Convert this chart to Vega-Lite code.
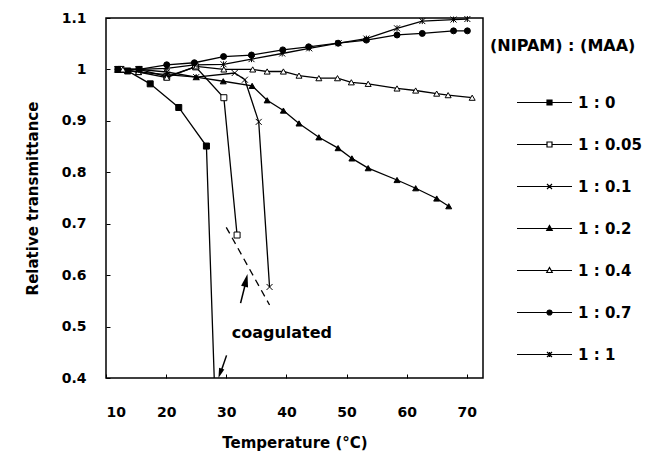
{
  "$schema": "https://vega.github.io/schema/vega-lite/v6.json",
  "width": 377,
  "height": 360,
  "autosize": {"type": "none"},
  "padding": {"left": 106, "top": 18, "right": 166, "bottom": 75},
  "background": "white",
  "config": {
    "view": {"stroke": "black", "strokeWidth": 1.5},
    "font": "DejaVu Sans",
    "axis": {
      "grid": false,
      "domain": false,
      "ticks": true,
      "tickColor": "black",
      "tickSize": -4,
      "labelFont": "DejaVu Sans",
      "labelFontSize": 14,
      "labelFontWeight": "bold",
      "labelColor": "black",
      "titleFont": "DejaVu Sans",
      "titleFontSize": 15,
      "titleFontWeight": "bold",
      "titleColor": "black"
    }
  },
  "datasets": {
    "series": [
      {"s": "1 : 0", "t": 12, "r": 1.0, "measured": true},
      {"s": "1 : 0", "t": 13.6, "r": 0.997, "measured": true},
      {"s": "1 : 0", "t": 17.35, "r": 0.972, "measured": true},
      {"s": "1 : 0", "t": 22.1, "r": 0.926, "measured": true},
      {"s": "1 : 0", "t": 26.7, "r": 0.851, "measured": true},
      {"s": "1 : 0", "t": 28.0, "r": 0.4, "measured": false},
      {"s": "1 : 0.05", "t": 12.5, "r": 1.0, "measured": true},
      {"s": "1 : 0.05", "t": 15.5, "r": 1.0, "measured": true},
      {"s": "1 : 0.05", "t": 20.1, "r": 0.986, "measured": true},
      {"s": "1 : 0.05", "t": 24.9, "r": 1.005, "measured": true},
      {"s": "1 : 0.05", "t": 29.6, "r": 0.945, "measured": true},
      {"s": "1 : 0.05", "t": 31.8, "r": 0.678, "measured": true},
      {"s": "1 : 0.1", "t": 12, "r": 1.0, "measured": true},
      {"s": "1 : 0.1", "t": 15.4, "r": 1.0, "measured": true},
      {"s": "1 : 0.1", "t": 20.1, "r": 0.995, "measured": true},
      {"s": "1 : 0.1", "t": 25, "r": 0.985, "measured": true},
      {"s": "1 : 0.1", "t": 31.4, "r": 0.993, "measured": true},
      {"s": "1 : 0.1", "t": 33.1, "r": 0.98, "measured": true},
      {"s": "1 : 0.1", "t": 35.4, "r": 0.898, "measured": true},
      {"s": "1 : 0.1", "t": 37.2, "r": 0.577, "measured": true},
      {"s": "1 : 0.2", "t": 12, "r": 1.0, "measured": true},
      {"s": "1 : 0.2", "t": 15.4, "r": 0.995, "measured": true},
      {"s": "1 : 0.2", "t": 20.1, "r": 0.99, "measured": true},
      {"s": "1 : 0.2", "t": 25, "r": 0.985, "measured": true},
      {"s": "1 : 0.2", "t": 29.5, "r": 0.977, "measured": true},
      {"s": "1 : 0.2", "t": 34.3, "r": 0.968, "measured": true},
      {"s": "1 : 0.2", "t": 36.8, "r": 0.94, "measured": true},
      {"s": "1 : 0.2", "t": 39.5, "r": 0.92, "measured": true},
      {"s": "1 : 0.2", "t": 42.1, "r": 0.895, "measured": true},
      {"s": "1 : 0.2", "t": 45.4, "r": 0.868, "measured": true},
      {"s": "1 : 0.2", "t": 48.6, "r": 0.847, "measured": true},
      {"s": "1 : 0.2", "t": 50.9, "r": 0.827, "measured": true},
      {"s": "1 : 0.2", "t": 53.6, "r": 0.808, "measured": true},
      {"s": "1 : 0.2", "t": 58.4, "r": 0.785, "measured": true},
      {"s": "1 : 0.2", "t": 61.5, "r": 0.769, "measured": true},
      {"s": "1 : 0.2", "t": 65, "r": 0.749, "measured": true},
      {"s": "1 : 0.2", "t": 67, "r": 0.734, "measured": true},
      {"s": "1 : 0.4", "t": 12.8, "r": 1.0, "measured": true},
      {"s": "1 : 0.4", "t": 15.4, "r": 0.995, "measured": true},
      {"s": "1 : 0.4", "t": 20.1, "r": 0.984, "measured": true},
      {"s": "1 : 0.4", "t": 25, "r": 1.006, "measured": true},
      {"s": "1 : 0.4", "t": 29.6, "r": 1.0, "measured": true},
      {"s": "1 : 0.4", "t": 34.4, "r": 1.0, "measured": true},
      {"s": "1 : 0.4", "t": 36.8, "r": 0.996, "measured": true},
      {"s": "1 : 0.4", "t": 39.5, "r": 0.996, "measured": true},
      {"s": "1 : 0.4", "t": 42.1, "r": 0.988, "measured": true},
      {"s": "1 : 0.4", "t": 45.4, "r": 0.983, "measured": true},
      {"s": "1 : 0.4", "t": 48.5, "r": 0.983, "measured": true},
      {"s": "1 : 0.4", "t": 50.8, "r": 0.975, "measured": true},
      {"s": "1 : 0.4", "t": 53.6, "r": 0.972, "measured": true},
      {"s": "1 : 0.4", "t": 58.4, "r": 0.963, "measured": true},
      {"s": "1 : 0.4", "t": 61.5, "r": 0.959, "measured": true},
      {"s": "1 : 0.4", "t": 65, "r": 0.953, "measured": true},
      {"s": "1 : 0.4", "t": 66.9, "r": 0.95, "measured": true},
      {"s": "1 : 0.4", "t": 70.9, "r": 0.945, "measured": true},
      {"s": "1 : 0.7", "t": 12, "r": 1.0, "measured": true},
      {"s": "1 : 0.7", "t": 15.5, "r": 1.0, "measured": true},
      {"s": "1 : 0.7", "t": 20.1, "r": 1.009, "measured": true},
      {"s": "1 : 0.7", "t": 24.7, "r": 1.013, "measured": true},
      {"s": "1 : 0.7", "t": 29.55, "r": 1.025, "measured": true},
      {"s": "1 : 0.7", "t": 34.2, "r": 1.028, "measured": true},
      {"s": "1 : 0.7", "t": 39.4, "r": 1.038, "measured": true},
      {"s": "1 : 0.7", "t": 43.7, "r": 1.044, "measured": true},
      {"s": "1 : 0.7", "t": 48.6, "r": 1.051, "measured": true},
      {"s": "1 : 0.7", "t": 53.3, "r": 1.057, "measured": true},
      {"s": "1 : 0.7", "t": 58.4, "r": 1.067, "measured": true},
      {"s": "1 : 0.7", "t": 62.6, "r": 1.07, "measured": true},
      {"s": "1 : 0.7", "t": 67.8, "r": 1.075, "measured": true},
      {"s": "1 : 0.7", "t": 70.1, "r": 1.075, "measured": true},
      {"s": "1 : 1", "t": 11.9, "r": 1.0, "measured": true},
      {"s": "1 : 1", "t": 15.5, "r": 1.0, "measured": true},
      {"s": "1 : 1", "t": 20.1, "r": 1.002, "measured": true},
      {"s": "1 : 1", "t": 24.7, "r": 1.009, "measured": true},
      {"s": "1 : 1", "t": 29.55, "r": 1.01, "measured": true},
      {"s": "1 : 1", "t": 34.2, "r": 1.02, "measured": true},
      {"s": "1 : 1", "t": 39.3, "r": 1.031, "measured": true},
      {"s": "1 : 1", "t": 43.8, "r": 1.041, "measured": true},
      {"s": "1 : 1", "t": 48.7, "r": 1.051, "measured": true},
      {"s": "1 : 1", "t": 53.3, "r": 1.06, "measured": true},
      {"s": "1 : 1", "t": 58.4, "r": 1.08, "measured": true},
      {"s": "1 : 1", "t": 62.6, "r": 1.094, "measured": true},
      {"s": "1 : 1", "t": 67.8, "r": 1.097, "measured": true},
      {"s": "1 : 1", "t": 70.1, "r": 1.098, "measured": true}
    ],
    "dash": [
      {"t": 30.0, "r": 0.693, "t2": 37.2, "r2": 0.542}
    ],
    "shafts": [
      {"t": 32.38, "r": 0.5455, "t2": 33.21, "r2": 0.5844},
      {"t": 30.05, "r": 0.444, "t2": 29.2, "r2": 0.415}
    ],
    "headUp": [{"t": 33.29, "r": 0.59}],
    "headDown": [{"t": 28.97, "r": 0.409}],
    "labels": [{"t": 30.9, "r": 0.487, "label": "coagulated"}]
  },
  "resolve": {"scale": {"shape": "independent", "fill": "independent", "stroke": "independent"}},
  "layer": [
    {
      "data": {"name": "series"},
      "mark": {"type": "line", "color": "black", "strokeWidth": 1.3},
      "encoding": {
        "x": {
          "field": "t", "type": "quantitative",
          "scale": {"domain": [10, 72.7], "nice": false, "zero": false},
          "axis": {"values": [10, 20, 30, 40, 50, 60, 70], "title": "Temperature (°C)", "labelPadding": 31, "titlePadding": 16}
        },
        "y": {
          "field": "r", "type": "quantitative",
          "scale": {"domain": [0.4, 1.1], "nice": false, "zero": false},
          "axis": {"values": [0.4, 0.5, 0.6, 0.7, 0.8, 0.9, 1, 1.1], "format": "~g", "title": "Relative transmittance", "labelPadding": 24, "titlePadding": 21}
        },
        "detail": {"field": "s", "type": "nominal"}
      }
    },
    {
      "data": {"name": "series"},
      "transform": [{"filter": "datum.measured"}],
      "mark": {"type": "point", "filled": true, "stroke": "black", "strokeWidth": 1, "size": 36, "opacity": 1},
      "encoding": {
        "x": {"field": "t", "type": "quantitative"},
        "y": {"field": "r", "type": "quantitative"},
        "shape": {
          "field": "s", "type": "nominal", "legend": null,
          "scale": {
            "domain": ["1 : 0", "1 : 0.05", "1 : 0.1", "1 : 0.2", "1 : 0.4", "1 : 0.7", "1 : 1"],
            "range": ["square", "square", "M-1,-1L1,1M-1,1L1,-1", "triangle-up", "triangle-up", "circle", "M-1,-1L1,1M-1,1L1,-1M0,-1V1"]
          }
        },
        "fill": {
          "field": "s", "type": "nominal", "legend": null,
          "scale": {
            "domain": ["1 : 0", "1 : 0.05", "1 : 0.1", "1 : 0.2", "1 : 0.4", "1 : 0.7", "1 : 1"],
            "range": ["black", "white", "white", "black", "white", "black", "white"]
          }
        }
      }
    },
    {
      "data": {"name": "series"},
      "mark": {"type": "point", "filled": true, "strokeWidth": 1.2, "size": 25, "opacity": 0},
      "encoding": {
        "x": {"field": "t", "type": "quantitative"},
        "y": {"field": "r", "type": "quantitative"},
        "shape": {
          "field": "s", "type": "nominal",
          "scale": {
            "domain": ["1 : 0", "1 : 0.05", "1 : 0.1", "1 : 0.2", "1 : 0.4", "1 : 0.7", "1 : 1"],
            "range": [
              "M-13,0H9M-1,-1H1V1H-1Z",
              "M-13,0H-1M1,0H9M-1,-1H1V1H-1Z",
              "M-13,0H9M-1,-1L1,1M-1,1L1,-1",
              "M-13,0H9M0,-1.2L1.1,0.8H-1.1Z",
              "M-13,0H-0.6M0.6,0H9M0,-1.2L1.1,0.8H-1.1Z",
              "M-13,0H9M1,0A1,1 0 1,1 -1,0A1,1 0 1,1 1,0Z",
              "M-13,0H9M-1,-1L1,1M-1,1L1,-1M0,-1V1"
            ]
          },
          "legend": {
            "orient": "none", "legendX": 384, "legendY": 20,
            "title": "(NIPAM) : (MAA)",
            "titleFont": "DejaVu Sans", "titleFontSize": 16, "titleFontWeight": "bold", "titleColor": "black", "titlePadding": 41,
            "labelFont": "DejaVu Sans", "labelFontSize": 15, "labelFontWeight": "bold", "labelColor": "black",
            "symbolSize": 25, "symbolOffset": 52, "labelOffset": 21, "rowPadding": 26,
            "symbolStrokeWidth": 1.2, "symbolOpacity": 1, "padding": 0
          }
        },
        "fill": {
          "field": "s", "type": "nominal",
          "scale": {
            "domain": ["1 : 0", "1 : 0.05", "1 : 0.1", "1 : 0.2", "1 : 0.4", "1 : 0.7", "1 : 1"],
            "range": ["black", "white", "white", "black", "white", "black", "white"]
          },
          "legend": {
            "orient": "none", "legendX": 384, "legendY": 20,
            "title": "(NIPAM) : (MAA)", "symbolOpacity": 1
          }
        },
        "stroke": {
          "field": "s", "type": "nominal",
          "scale": {
            "domain": ["1 : 0", "1 : 0.05", "1 : 0.1", "1 : 0.2", "1 : 0.4", "1 : 0.7", "1 : 1"],
            "range": ["black", "black", "black", "black", "black", "black", "black"]
          },
          "legend": {
            "orient": "none", "legendX": 384, "legendY": 20,
            "title": "(NIPAM) : (MAA)", "symbolOpacity": 1
          }
        }
      }
    },
    {
      "data": {"name": "dash"},
      "mark": {"type": "rule", "color": "black", "strokeWidth": 1.3, "strokeDash": [7, 5]},
      "encoding": {
        "x": {"field": "t", "type": "quantitative"},
        "y": {"field": "r", "type": "quantitative"},
        "x2": {"field": "t2"},
        "y2": {"field": "r2"}
      }
    },
    {
      "data": {"name": "shafts"},
      "mark": {"type": "rule", "color": "black", "strokeWidth": 1.5},
      "encoding": {
        "x": {"field": "t", "type": "quantitative"},
        "y": {"field": "r", "type": "quantitative"},
        "x2": {"field": "t2"},
        "y2": {"field": "r2"}
      }
    },
    {
      "data": {"name": "headUp"},
      "mark": {"type": "point", "shape": "M0,-1L0.55,1L-0.55,1Z", "filled": true, "color": "black", "size": 169, "angle": 13, "opacity": 1},
      "encoding": {
        "x": {"field": "t", "type": "quantitative"},
        "y": {"field": "r", "type": "quantitative"}
      }
    },
    {
      "data": {"name": "headDown"},
      "mark": {"type": "point", "shape": "M0,1L0.55,-1L-0.55,-1Z", "filled": true, "color": "black", "size": 100, "angle": 19, "opacity": 1},
      "encoding": {
        "x": {"field": "t", "type": "quantitative"},
        "y": {"field": "r", "type": "quantitative"}
      }
    },
    {
      "data": {"name": "labels"},
      "mark": {"type": "text", "align": "left", "baseline": "middle", "font": "DejaVu Sans", "fontSize": 16, "fontWeight": "bold", "color": "black"},
      "encoding": {
        "x": {"field": "t", "type": "quantitative"},
        "y": {"field": "r", "type": "quantitative"},
        "text": {"field": "label"}
      }
    }
  ]
}
